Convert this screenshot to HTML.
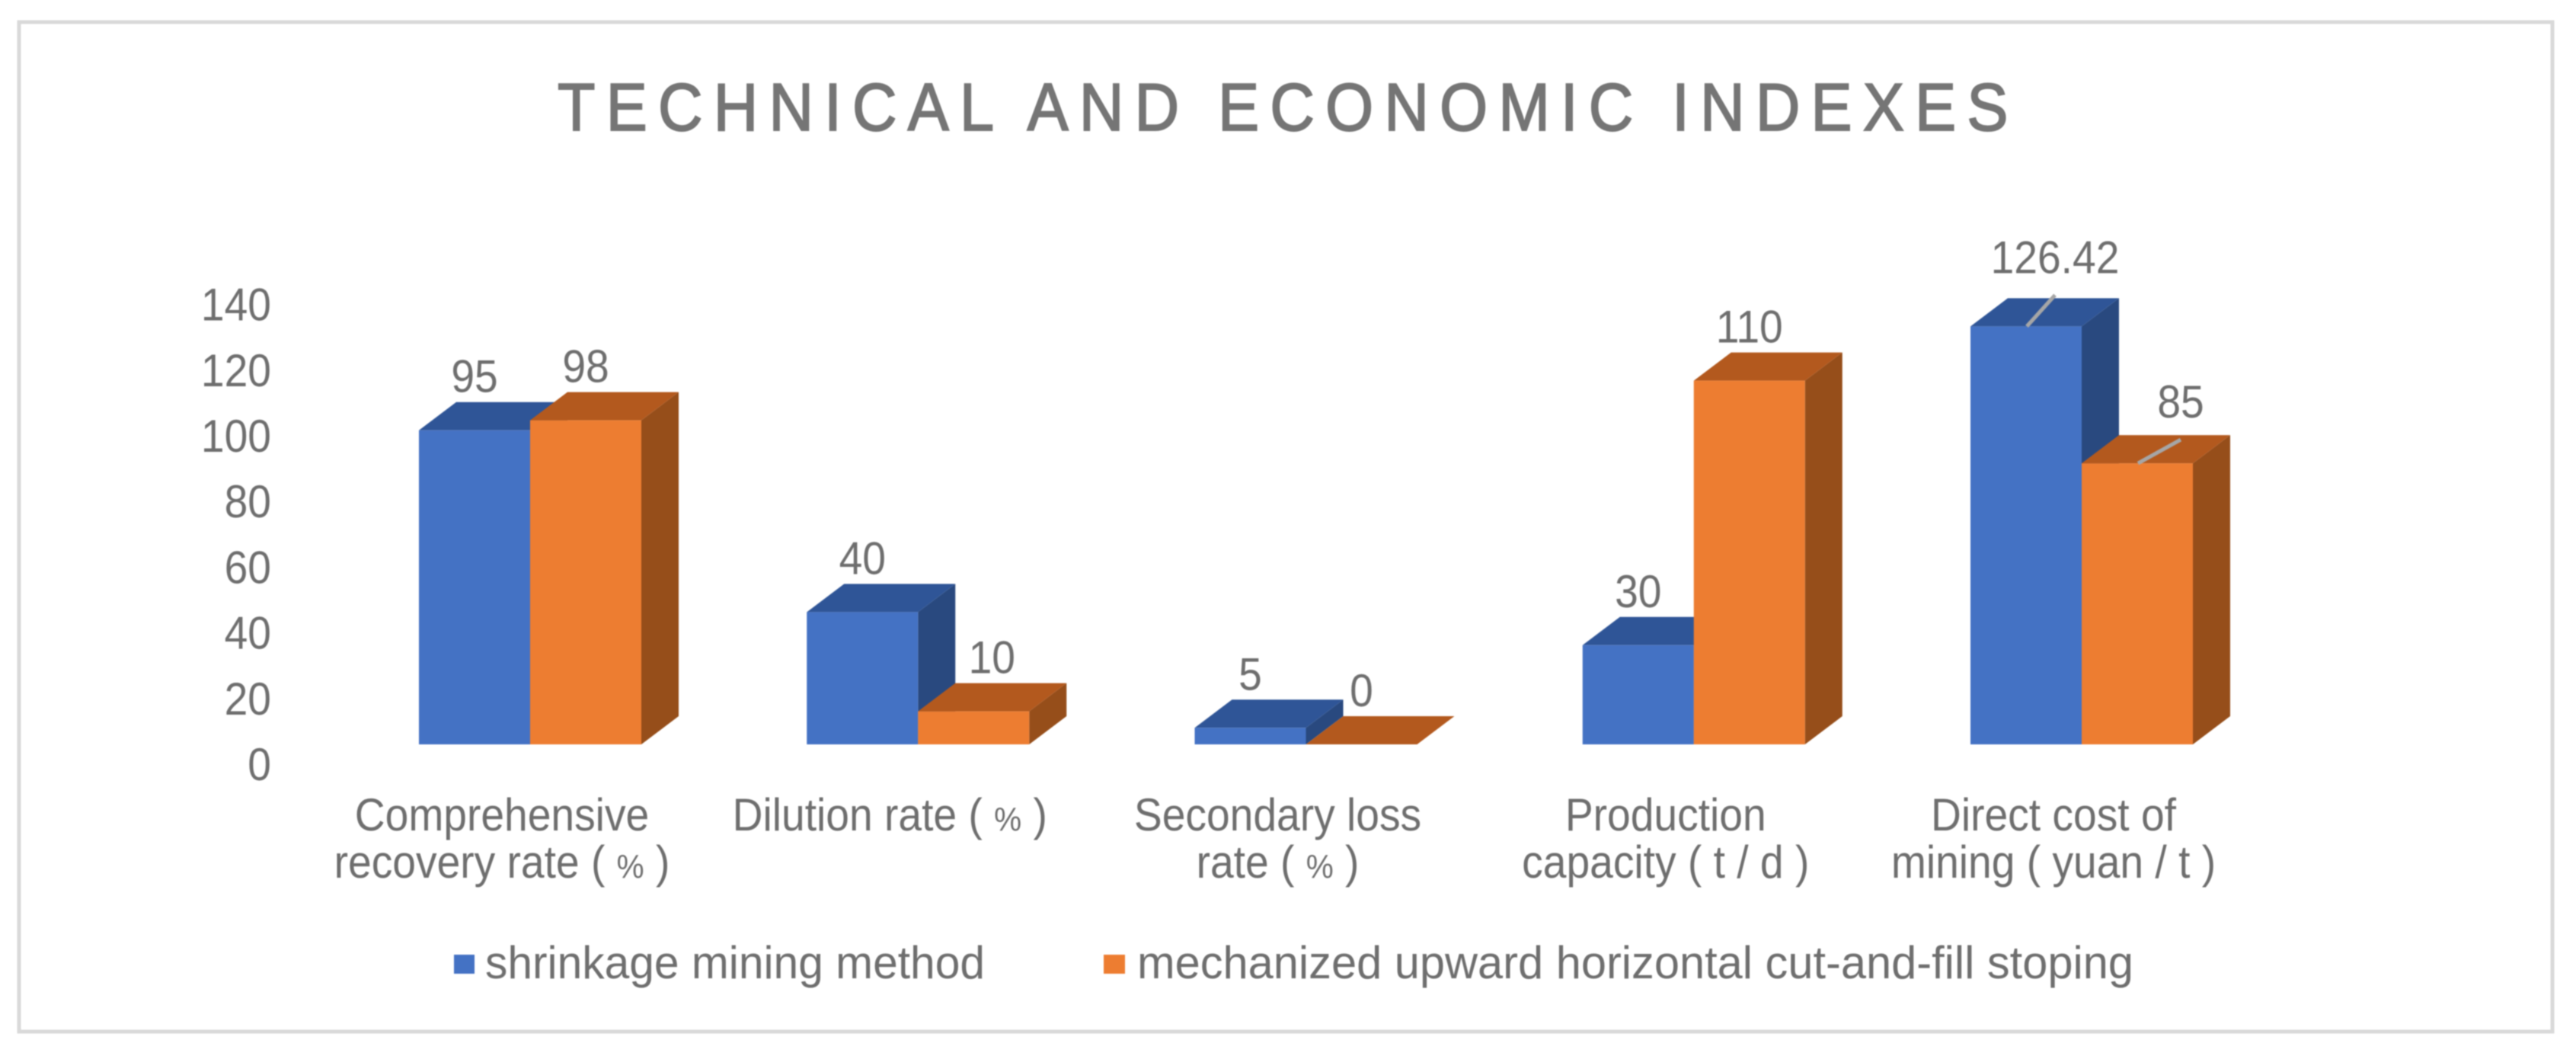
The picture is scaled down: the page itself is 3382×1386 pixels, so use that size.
<!DOCTYPE html>
<html lang="en">
<head>
<meta charset="utf-8">
<title>Technical and Economic Indexes</title>
<style>
  html, body { margin: 0; padding: 0; background: #fff; }
  svg { display: block; filter: blur(0.8px); }
  text { font-family: "Liberation Sans", "Noto Sans CJK SC", sans-serif; white-space: pre; }
</style>
</head>
<body>
<svg id="chart" xmlns="http://www.w3.org/2000/svg" width="3382" height="1386" viewBox="0 0 3382 1386">
  <rect x="25" y="29" width="3326" height="1325" fill="#fff" stroke="#d9d9d9" stroke-width="5"/>
  <text transform="translate(732 171) scale(0.92 1)" font-size="88" fill="#757575" stroke="#757575" stroke-width="2" textLength="2070" lengthAdjust="spacing">TECHNICAL AND ECONOMIC INDEXES</text>
  <g id="y-axis"></g>
  <g id="bars"></g>
  <g id="labels"></g>
  <g id="x-axis"></g>
  <g>
    <rect x="596" y="1253" width="27" height="25" fill="#4472c4"/>
    <text x="637" y="1284" font-size="60" fill="#6e6e6e" textLength="656" lengthAdjust="spacingAndGlyphs">shrinkage mining method</text>
    <rect x="1449" y="1253" width="28" height="25" fill="#ed7d31"/>
    <text x="1493" y="1284" font-size="60" fill="#6e6e6e" textLength="1308" lengthAdjust="spacingAndGlyphs">mechanized upward horizontal cut-and-fill stoping</text>
  </g>
</svg>
<script>
const categories = [
  ["Comprehensive", "recovery rate ( % )"],
  ["Dilution rate ( % )"],
  ["Secondary loss", "rate ( % )"],
  ["Production", "capacity ( t / d )"],
  ["Direct cost of", "mining ( yuan / t )"]
];
const shrinkageValues = [95, 40, 5, 30, 126.42];
const mechanizedValues = [98, 10, 0, 110, 85];
const yTicks = [0, 20, 40, 60, 80, 100, 120, 140];

const NS = "http://www.w3.org/2000/svg";
const BAR_W = 146, DX = 49, DY = 37;
const BASE_Y = 977, UNIT = 4.34;
const TEXT_FILL = "#6e6e6e";
const TEXT_SQUEEZE = 0.92;

function xBar(cat, series) { return 550 + cat * 509.25 + series * BAR_W; }
function yBar(v) { return BASE_Y - v * UNIT; }
function yTick(v) { return 1003 - v * 4.31; }
function xCat(cat) { return 659 + cat * 509.25; }

function makeText(parent, x, y, str, anchor) {
  const t = document.createElementNS(NS, "text");
  t.setAttribute("transform", "translate(" + x + " " + y + ") scale(" + TEXT_SQUEEZE + " 1)");
  t.setAttribute("font-size", 60);
  t.setAttribute("fill", TEXT_FILL);
  t.setAttribute("text-anchor", anchor);
  str.split("%").forEach(function (part, i) {
    if (i > 0) {
      const p = document.createElementNS(NS, "tspan");
      p.setAttribute("font-size", 44);
      p.textContent = "%";
      t.appendChild(p);
    }
    t.appendChild(document.createTextNode(part));
  });
  parent.appendChild(t);
  return t;
}

function makePoly(parent, pts, fill) {
  const p = document.createElementNS(NS, "polygon");
  p.setAttribute("points", pts.map(function (q) { return q[0] + "," + q[1]; }).join(" "));
  p.setAttribute("fill", fill);
  parent.appendChild(p);
  return p;
}

const yAxis = document.getElementById("y-axis");
yTicks.forEach(function (v) {
  const t = makeText(yAxis, 356, yTick(v) + 21, String(v), "end");
  
  
});

const xAxis = document.getElementById("x-axis");
categories.forEach(function (lines, c) {
  lines.forEach(function (line, i) {
    const t = makeText(xAxis, xCat(c), 1090 + i * 62, line, "middle");
    
    
  });
});

const barsG = document.getElementById("bars");
function drawBar(cat, series, v, front, top, side) {
  const x0 = xBar(cat, series), x1 = x0 + BAR_W, y0 = yBar(v);
  const s = makePoly(barsG, [[x1, y0], [x1 + DX, y0 - DY], [x1 + DX, BASE_Y - DY], [x1, BASE_Y]], side);
  
  
  const t = makePoly(barsG, [[x0, y0], [x0 + DX, y0 - DY], [x1 + DX, y0 - DY], [x1, y0]], top);
  
  
  const f = makePoly(barsG, [[x0, y0], [x1, y0], [x1, BASE_Y], [x0, BASE_Y]], front);
  
  
}

categories.forEach(function (_, c) {
  drawBar(c, 0, shrinkageValues[c], "#4472c4", "#2f5597", "#29497f");
  drawBar(c, 1, mechanizedValues[c], "#ed7d31", "#b3591e", "#964e1a");
});

const labelsG = document.getElementById("labels");
function drawLabel(cat, series, v) {
  const cx = xBar(cat, series) + BAR_W / 2;
  const backTop = yBar(v) - DY;
  let tx = cx, ty = backTop - 34;
  let leader = false;
  if (cat === 1 && series === 1) { tx = cx + 24; }
  if (cat === 4 && series === 0) { tx = cx + 38; ty = backTop - 54; leader = true; }
  if (cat === 4 && series === 1) { tx = cx + 57; ty = backTop - 44; leader = true; }
  const t = makeText(labelsG, tx, ty + 21, String(v), "middle");
  
  
  if (leader) {
    const l = document.createElementNS(NS, "line");
    l.setAttribute("x1", cx + 1);
    l.setAttribute("y1", yBar(v));
    l.setAttribute("x2", tx);
    l.setAttribute("y2", yBar(v) - (series === 0 ? 41 : 31));
    l.setAttribute("stroke", "#a6a6a6");
    l.setAttribute("stroke-width", 5);
    labelsG.appendChild(l);
    
    
  }
}
categories.forEach(function (_, c) {
  drawLabel(c, 0, shrinkageValues[c]);
  drawLabel(c, 1, mechanizedValues[c]);
});
</script>
</body>
</html>
